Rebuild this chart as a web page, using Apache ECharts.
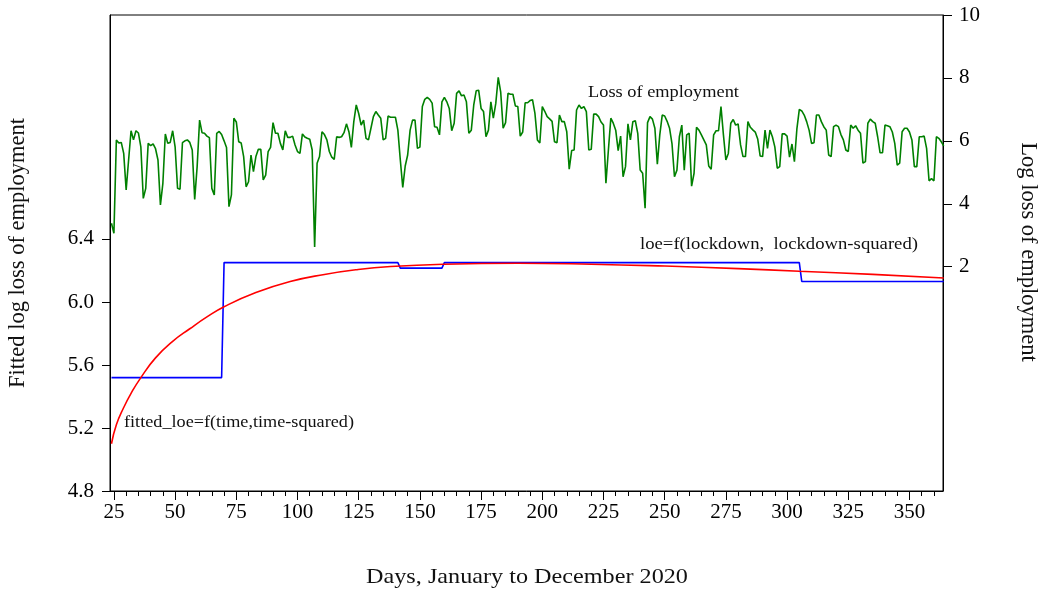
<!DOCTYPE html>
<html>
<head>
<meta charset="utf-8">
<script src="https://cdn.jsdelivr.net/npm/echarts@6/dist/echarts.min.js"></script>
<style>
  html, body { margin: 0; padding: 0; background: #fff; }
  #chart { width: 1053px; height: 591px; }
</style>
</head>
<body>
<div id="chart"></div>
<script>
// day of year for the first observation of the daily series
const lossStartDay = 24;

// log loss of employment, one value per day from day 24 to day 364 (right axis)
const lossValues = [
  3.38, 3.06, 6.03, 5.93, 5.95, 5.6, 4.44, 5.39, 6.32, 6.03,
  6.32, 6.25, 5.81, 4.17, 4.49, 5.92, 5.85, 5.9, 5.75, 5.39,
  3.96, 4.65, 6.22, 5.92, 5.95, 6.32, 5.81, 4.49, 4.46, 5.94,
  6.0, 6.03, 5.95, 5.71, 4.14, 5.18, 6.66, 6.26, 6.24, 6.15,
  6.1, 4.49, 4.28, 6.24, 6.3, 6.2, 6.0, 5.79, 3.91, 4.28,
  6.72, 6.6, 5.97, 5.93, 5.5, 4.54, 4.7, 5.55, 5.02, 5.5,
  5.73, 5.73, 4.76, 4.91, 5.66, 5.79, 6.58, 6.24, 6.24, 5.92,
  5.71, 6.32, 6.11, 6.11, 6.15, 5.87, 5.66, 5.6, 6.22, 6.12,
  6.08, 6.05, 5.71, 2.63, 5.29, 5.5, 6.29, 6.2, 6.03, 5.66,
  5.48, 5.41, 6.13, 6.11, 6.13, 6.26, 6.54, 6.29, 5.79, 6.61,
  7.14, 6.87, 6.5, 6.66, 6.08, 6.03, 6.4, 6.77, 6.93, 6.82,
  6.72, 6.03, 6.08, 6.79, 6.75, 6.75, 6.75, 6.34, 5.39, 4.52,
  5.2, 5.55, 6.34, 6.66, 6.66, 5.76, 5.8, 7.09, 7.32, 7.38,
  7.32, 7.2, 6.45, 6.43, 6.19, 7.24, 7.38, 7.24, 7.03, 6.32,
  6.56, 7.51, 7.59, 7.43, 7.46, 7.24, 6.24, 6.34, 7.14, 7.59,
  7.61, 7.03, 6.93, 6.13, 6.34, 7.24, 6.72, 7.19, 8.02, 7.56,
  6.4, 6.58, 7.51, 7.48, 7.48, 7.11, 7.09, 6.15, 6.28, 7.21,
  7.21, 7.28, 7.31, 6.87, 6.03, 5.93, 7.09, 6.94, 6.77, 6.7,
  6.62, 5.97, 5.94, 6.82, 6.61, 6.61, 6.29, 5.1, 5.69, 5.71,
  6.98, 7.14, 7.03, 7.09, 6.93, 5.71, 5.73, 6.85, 6.85, 6.77,
  6.6, 6.5, 4.65, 5.7, 6.72, 6.56, 6.34, 5.69, 6.15, 4.86,
  5.18, 6.54, 6.03, 6.61, 6.64, 6.24, 5.07, 4.97, 3.86, 6.58,
  6.77, 6.69, 6.4, 5.26, 6.19, 6.82, 6.79, 6.62, 6.4, 5.9,
  4.86, 5.07, 6.13, 6.5, 5.07, 6.19, 6.24, 4.56, 4.97, 6.43,
  6.34, 6.19, 6.03, 5.87, 5.2, 5.1, 6.19, 6.32, 6.32, 7.09,
  6.19, 5.39, 5.6, 6.56, 6.68, 6.5, 6.54, 5.87, 5.5, 5.5,
  6.61, 6.43, 6.35, 6.28, 6.06, 5.52, 5.5, 6.34, 5.76, 6.34,
  6.13, 5.81, 5.13, 5.18, 6.22, 6.22, 6.15, 5.48, 5.9, 5.34,
  6.37, 7.0, 6.95, 6.82, 6.61, 6.34, 5.92, 5.94, 6.82, 6.82,
  6.61, 6.45, 6.34, 5.55, 5.5, 6.45, 6.5, 6.45, 6.2, 6.03,
  5.71, 5.66, 6.5, 6.4, 6.48, 6.34, 6.24, 5.29, 5.34, 6.56,
  6.69, 6.61, 6.56, 6.13, 5.62, 5.62, 6.5, 6.48, 6.45, 6.28,
  5.92, 5.23, 5.29, 6.29, 6.4, 6.4, 6.28, 6.03, 5.18, 5.18,
  6.13, 6.13, 6.15, 5.76, 4.73, 4.8, 4.73, 6.13, 6.08, 5.97,
  5.84
];

// fitted loe on lockdown dummies (left axis), step corners
const lockdownDays = [24, 69, 70, 141, 142, 159, 160, 305, 306, 364];
const lockdownFit = [5.52, 5.52, 6.25, 6.25, 6.215, 6.215, 6.25, 6.25, 6.13, 6.13];

// fitted loe on time and time squared (left axis)
const trendDays = [24, 26, 29, 32, 36, 42, 49, 56, 63, 70, 83, 97, 111, 124, 138, 160, 190, 220, 250, 280, 305, 335, 364];
const trendFit = [5.1, 5.22, 5.33, 5.42, 5.52, 5.645, 5.75, 5.83, 5.905, 5.97, 6.06, 6.13, 6.175, 6.205, 6.225, 6.24, 6.246, 6.24, 6.228, 6.212, 6.195, 6.175, 6.152];

// ticks
const dayTicks = [25, 50, 75, 100, 125, 150, 175, 200, 225, 250, 275, 300, 325, 350];
const dayMinorTicks = [];
for (let d = 25; d <= 360; d += 5) dayMinorTicks.push(d);
const leftTicks = [4.8, 5.2, 5.6, 6.0, 6.4];
const rightTicks = [2, 4, 6, 8, 10];

const font = "'Liberation Serif', 'Times New Roman', serif";

const lossData = lossValues.map((v, i) => [lossStartDay + i, v]);
const lockdownData = lockdownDays.map((d, i) => [d, lockdownFit[i]]);
const trendData = trendDays.map((d, i) => [d, trendFit[i]]);

const chart = echarts.init(document.getElementById("chart"));

const option = {
  animation: false,
  backgroundColor: "#fff",
  grid: {
    left: 110,
    right: 110,
    top: 15,
    bottom: 100,
    show: true,
    borderColor: "#000",
    borderWidth: 1,
  },
  xAxis: [
    {
      type: "value",
      min: 23.4,
      max: 363.7,
      position: "bottom",
      splitLine: { show: false },
      axisLine: { onZero: false, lineStyle: { color: "#000", width: 1 } },
      axisTick: { customValues: dayTicks, length: 9, lineStyle: { color: "#000" } },
      axisLabel: {
        customValues: dayTicks,
        margin: 11,
        color: "#000",
        fontFamily: font,
        fontSize: 21,
      },
    },
    {
      type: "value",
      min: 23.4,
      max: 363.7,
      position: "bottom",
      splitLine: { show: false },
      axisLine: { show: false, onZero: false },
      axisTick: { customValues: dayMinorTicks, length: 5, lineStyle: { color: "#000" } },
      axisLabel: { show: false },
    },
  ],
  yAxis: [
    {
      type: "value",
      min: 4.8,
      max: 7.822,
      position: "left",
      splitLine: { show: false },
      axisLine: { show: true, onZero: false, lineStyle: { color: "#000", width: 1 } },
      axisTick: { show: true, customValues: leftTicks, length: 8, lineStyle: { color: "#000" } },
      axisLabel: {
        customValues: leftTicks,
        formatter: (v) => v.toFixed(1),
        margin: 16,
        color: "#000",
        fontFamily: font,
        fontSize: 21,
      },
    },
    {
      type: "value",
      min: -5.13,
      max: 10,
      position: "right",
      splitLine: { show: false },
      axisLine: { show: true, onZero: false, lineStyle: { color: "#000", width: 1 } },
      axisTick: { show: true, customValues: rightTicks, length: 9, lineStyle: { color: "#000" } },
      axisLabel: {
        customValues: rightTicks,
        margin: 16,
        color: "#000",
        fontFamily: font,
        fontSize: 21,
      },
    },
  ],
  series: [
    {
      name: "Loss of employment",
      type: "line",
      xAxisIndex: 0,
      yAxisIndex: 1,
      data: lossData,
      showSymbol: false,
      lineStyle: { color: "#008000", width: 1.6 },
      z: 3,
    },
    {
      name: "loe=f(lockdown, lockdown-squared)",
      type: "line",
      xAxisIndex: 0,
      yAxisIndex: 0,
      data: lockdownData,
      showSymbol: false,
      lineStyle: { color: "#0000ff", width: 1.6 },
      z: 4,
    },
    {
      name: "fitted_loe=f(time,time-squared)",
      type: "line",
      xAxisIndex: 0,
      yAxisIndex: 0,
      data: trendData,
      smooth: true,
      showSymbol: false,
      lineStyle: { color: "#ff0000", width: 1.6 },
      z: 5,
    },
  ],
  graphic: [
    {
      type: "text",
      x: 588,
      y: 93,
      scaleX: 1.08,
      style: { text: "Loss of employment", fontFamily: font, fontSize: 17, fill: "#111", verticalAlign: "middle" },
    },
    {
      type: "text",
      x: 640,
      y: 245,
      scaleX: 1.1,
      style: { text: "loe=f(lockdown,  lockdown-squared)", fontFamily: font, fontSize: 17, fill: "#111", verticalAlign: "middle" },
    },
    {
      type: "text",
      x: 124,
      y: 423,
      scaleX: 1.07,
      style: { text: "fitted_loe=f(time,time-squared)", fontFamily: font, fontSize: 17, fill: "#111", verticalAlign: "middle" },
    },
    {
      type: "text",
      x: 527,
      y: 577,
      scaleX: 1.1,
      style: { text: "Days, January to December 2020", fontFamily: font, fontSize: 22, fill: "#111", align: "center", verticalAlign: "middle" },
    },
    {
      type: "text",
      x: 18,
      y: 253,
      rotation: Math.PI / 2,
      style: { text: "Fitted log loss of employment", fontFamily: font, fontSize: 22.5, fill: "#111", align: "center", verticalAlign: "middle" },
    },
    {
      type: "text",
      x: 1028,
      y: 252,
      rotation: -Math.PI / 2,
      style: { text: "Log loss of employment", fontFamily: font, fontSize: 22.5, fill: "#111", align: "center", verticalAlign: "middle" },
    },
  ],
};

chart.setOption(option);
</script>
</body>
</html>
